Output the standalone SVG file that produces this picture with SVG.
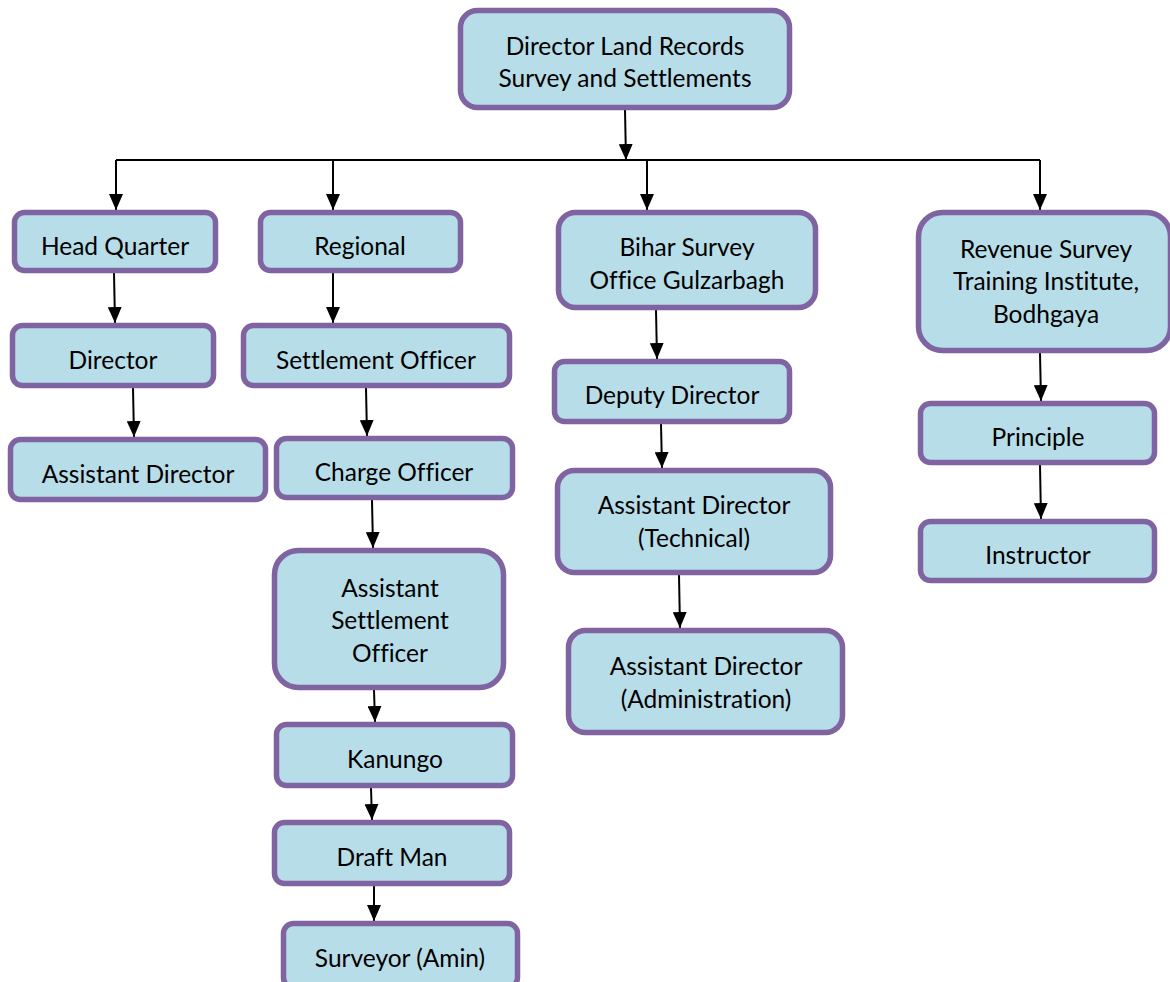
<svg xmlns="http://www.w3.org/2000/svg" width="1170" height="982" viewBox="0 0 1170 982">
<style>
.box{fill:#b7dde8;stroke:#8064a2;stroke-width:5.5}
.t{font-family:Lato,"Liberation Sans",sans-serif;font-size:24.5px;fill:#000;text-anchor:middle;font-variant-ligatures:none}
.c{stroke:#000;stroke-width:2;fill:none;marker-end:url(#ah)}
.h{stroke:#000;stroke-width:2;fill:none}
</style>
<defs>
<marker id="ah" viewBox="0 0 16 14" refX="16" refY="7" markerWidth="16" markerHeight="14" orient="auto" markerUnits="userSpaceOnUse">
<path d="M0,0 L16,7 L0,14 z" fill="#000"/>
</marker>
</defs>
<rect width="1170" height="982" fill="#fff"/>
<g id="connectors">
<line class="c" x1="625" y1="110" x2="626" y2="160"/>
<line class="h" x1="116" y1="160" x2="1040" y2="160"/>
<line class="c" x1="116" y1="160" x2="116" y2="210"/>
<line class="c" x1="333" y1="160" x2="333" y2="210"/>
<line class="c" x1="647" y1="160" x2="647" y2="210"/>
<line class="c" x1="1040" y1="160" x2="1040" y2="210"/>
<line class="c" x1="114" y1="273" x2="115" y2="323"/>
<line class="c" x1="133" y1="388" x2="134" y2="437"/>
<line class="c" x1="333" y1="273" x2="333" y2="323"/>
<line class="c" x1="366" y1="388" x2="367" y2="436"/>
<line class="c" x1="372" y1="500" x2="373" y2="548"/>
<line class="c" x1="374" y1="690" x2="375" y2="722"/>
<line class="c" x1="371" y1="788" x2="372" y2="820"/>
<line class="c" x1="374" y1="886" x2="374" y2="921"/>
<line class="c" x1="656" y1="310" x2="657" y2="359"/>
<line class="c" x1="661" y1="424" x2="662" y2="468"/>
<line class="c" x1="679" y1="575" x2="680" y2="628"/>
<line class="c" x1="1040" y1="353" x2="1041" y2="401"/>
<line class="c" x1="1040" y1="465" x2="1041" y2="519"/>
</g>
<g id="n-top"><rect class="box" x="460.5" y="10.5" width="329" height="97" rx="17"/><text class="t" x="625" y="55">Director Land Records</text><text class="t" x="625" y="87">Survey and Settlements</text></g>
<g id="n-hq"><rect class="box" x="14.5" y="212.5" width="201" height="58" rx="10"/><text class="t" x="115" y="255">Head Quarter</text></g>
<g id="n-regional"><rect class="box" x="260.5" y="212.5" width="200" height="58" rx="10"/><text class="t" x="360" y="255">Regional</text></g>
<g id="n-bihar"><rect class="box" x="558.5" y="212.5" width="257" height="95" rx="17"/><text class="t" x="687" y="256">Bihar Survey</text><text class="t" x="687" y="289">Office Gulzarbagh</text></g>
<g id="n-revenue"><rect class="box" x="918.5" y="212.5" width="252" height="138" rx="24"/><text class="t" x="1046" y="258">Revenue Survey</text><text class="t" x="1046" y="290">Training Institute,</text><text class="t" x="1046" y="323">Bodhgaya</text></g>
<g id="n-director"><rect class="box" x="12.5" y="325.5" width="201" height="60" rx="10"/><text class="t" x="113" y="369">Director</text></g>
<g id="n-asstdir"><rect class="box" x="10.5" y="439.5" width="255" height="60" rx="10"/><text class="t" x="138" y="483">Assistant Director</text></g>
<g id="n-settlement"><rect class="box" x="243.5" y="325.5" width="266" height="60" rx="10"/><text class="t" x="376" y="369">Settlement Officer</text></g>
<g id="n-charge"><rect class="box" x="276.5" y="438.5" width="236" height="59" rx="10"/><text class="t" x="394" y="481">Charge Officer</text></g>
<g id="n-aso"><rect class="box" x="274.5" y="550.5" width="229" height="137" rx="24"/><text class="t" x="390" y="597">Assistant</text><text class="t" x="390" y="629">Settlement</text><text class="t" x="390" y="662">Officer</text></g>
<g id="n-kanungo"><rect class="box" x="276.5" y="724.5" width="236" height="61" rx="10"/><text class="t" x="395" y="768">Kanungo</text></g>
<g id="n-draft"><rect class="box" x="274.5" y="822.5" width="235" height="61" rx="10"/><text class="t" x="392" y="866">Draft Man</text></g>
<g id="n-surveyor"><rect class="box" x="283.5" y="923.5" width="234" height="64" rx="10"/><text class="t" x="400" y="967">Surveyor (Amin)</text></g>
<g id="n-deputy"><rect class="box" x="554.5" y="361.5" width="235" height="60" rx="10"/><text class="t" x="672" y="404">Deputy Director</text></g>
<g id="n-tech"><rect class="box" x="557.5" y="470.5" width="273" height="102" rx="17"/><text class="t" x="694" y="514">Assistant Director</text><text class="t" x="694" y="547">(Technical)</text></g>
<g id="n-admin"><rect class="box" x="568.5" y="630.5" width="274" height="102" rx="17"/><text class="t" x="706" y="675">Assistant Director</text><text class="t" x="706" y="708">(Administration)</text></g>
<g id="n-principle"><rect class="box" x="920.5" y="403.5" width="234" height="59" rx="10"/><text class="t" x="1038" y="446">Principle</text></g>
<g id="n-instructor"><rect class="box" x="920.5" y="521.5" width="234" height="59" rx="10"/><text class="t" x="1038" y="564">Instructor</text></g>
</svg>
